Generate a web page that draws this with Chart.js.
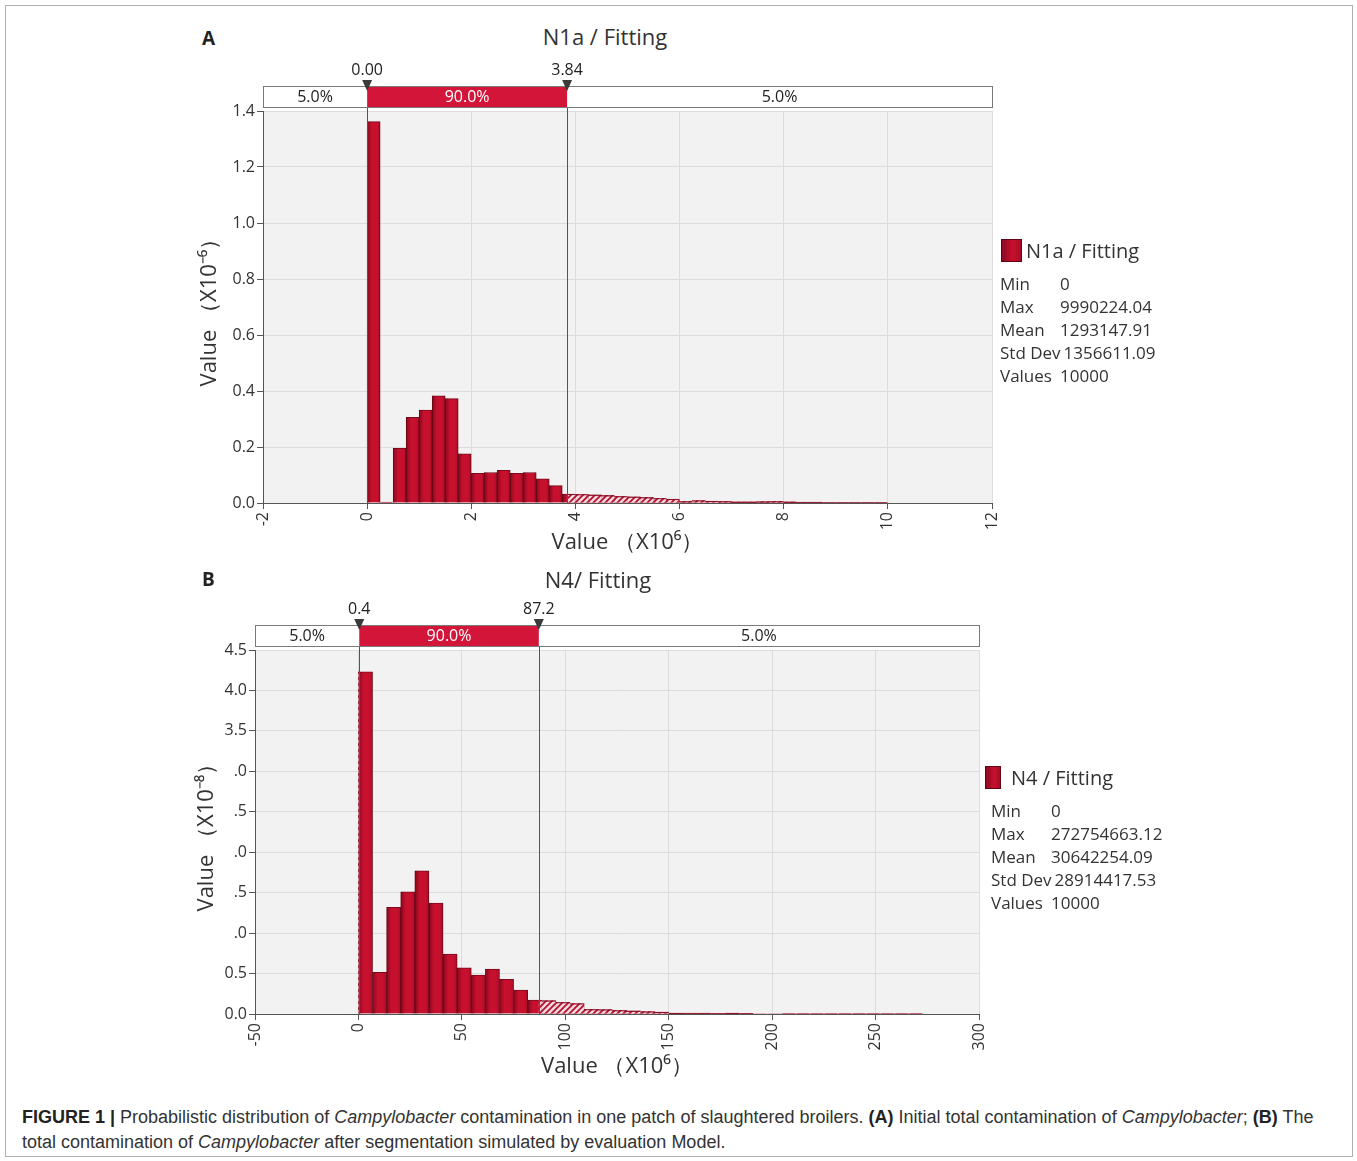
<!DOCTYPE html>
<html><head><meta charset="utf-8">
<script src="https://cdn.jsdelivr.net/npm/chart.js@4.4.1/dist/chart.umd.min.js"></script>
<style>
html,body{margin:0;padding:0;background:#fff;}
body{width:1357px;height:1161px;position:relative;overflow:hidden;font-family:"Open Sans",sans-serif;color:#222;}
.frame{position:absolute;left:5px;top:5px;width:1346px;height:1150px;border:1px solid #b0b0b0;}
canvas{position:absolute;}
.abs{position:absolute;white-space:nowrap;}
.letter{font-weight:700;font-size:19px;transform:translateY(-50%);}
.ptitle{font-size:22px;transform:translate(-50%,-50%);color:#333;}
.leg{position:absolute;font-size:17px;line-height:23px;color:#333;white-space:nowrap;}
.leg .row span.k{display:inline-block;min-width:60px;padding-right:3px;box-sizing:border-box;}
.head{position:absolute;font-size:20px;color:#333;display:flex;align-items:center;white-space:nowrap;}
.sw{display:inline-block;background:linear-gradient(90deg,#8e0a22,#c8102e 60%,#a50c27);border:1px solid #5e0614;}
.cap{position:absolute;left:22px;top:1105px;font-family:"Liberation Sans",Arial,sans-serif;font-size:18px;line-height:24.5px;color:#333;white-space:nowrap;}
</style>
</head>
<body>
<div class="frame"></div>

<div class="abs letter" style="left:202px;top:38px;">A</div>
<div class="abs ptitle" style="left:605px;top:36px;">N1a / Fitting</div>
<canvas id="cA" width="850" height="510" style="left:190px;top:60px;"></canvas>

<div class="head" style="left:1001px;top:237px;"><span class="sw" style="width:19px;height:21px;margin-right:4px;"></span>N1a / Fitting</div>
<div class="leg" id="legA" style="left:1000px;top:272px;"></div>

<div class="abs letter" style="left:202px;top:579px;">B</div>
<div class="abs ptitle" style="left:598px;top:579px;">N4/ Fitting</div>
<canvas id="cB" width="850" height="495" style="left:190px;top:595px;"></canvas>

<div class="head" style="left:985px;top:764px;"><span class="sw" style="width:14px;height:21px;margin-right:10px;"></span>N4 / Fitting</div>
<div class="leg" id="legB" style="left:991px;top:799px;"></div>

<div class="cap"><b style="color:#222">FIGURE 1 |</b> Probabilistic distribution of <i>Campylobacter</i> contamination in one patch of slaughtered broilers. <b style="color:#222">(A)</b> Initial total contamination of <i>Campylobacter</i>; <b style="color:#222">(B)</b> The<br>total contamination of <i>Campylobacter</i> after segmentation simulated by evaluation Model.</div>

<script>
// ---------------- DATA ----------------
// Panel A: N1a / Fitting  (x in 10^6, density in 10^-6), 40 bins between Min and Max
const rangeA = [0, 9.99022404];
const densityA = [1.362, 0.003, 0.195, 0.306, 0.332, 0.383, 0.373, 0.176, 0.106, 0.109,
                  0.117, 0.106, 0.109, 0.086, 0.062, 0.032, 0.031, 0.029, 0.027, 0.024,
                  0.022, 0.020, 0.017, 0.014, 0.006, 0.009, 0.007, 0.006, 0.004, 0.004,
                  0.005, 0.006, 0.004, 0.003, 0.003, 0.002, 0.002, 0.002, 0.002, 0.002];
const yTickLabelsA = ['0.0','0.2','0.4','0.6','0.8','1.0','1.2','1.4'];
const pctValuesA = [0.00, 3.84];
const pctMarkerLabelsA = ['0.00','3.84'];
const pctBandLabelsA = ['5.0%','90.0%','5.0%'];
const statLabels = ['Min','Max','Mean','Std Dev','Values'];
const statValuesA = ['0','9990224.04','1293147.91','1356611.09','10000'];

// Panel B: N4 / Fitting  (x in 10^6, density in 10^-8)
const rangeB = [0, 272.75466312];
const densityB = [4.23, 0.515, 1.32, 1.51, 1.77, 1.37, 0.74, 0.57, 0.48, 0.556,
                  0.43, 0.297, 0.173, 0.165, 0.145, 0.13, 0.058, 0.055, 0.045, 0.038,
                  0.030, 0.025, 0.012, 0.010, 0.010, 0.008, 0.012, 0.008, 0.006, 0.006,
                  0.005, 0.005, 0.005, 0.004, 0.004, 0.004, 0.004, 0.004, 0.003, 0.003];
const yTickLabelsB = ['0.0','0.5','.0','.5','.0','.5','.0','3.5','4.0','4.5'];
const pctValuesB = [0.4, 87.2];
const pctMarkerLabelsB = ['0.4','87.2'];
const pctBandLabelsB = ['5.0%','90.0%','5.0%'];
const statValuesB = ['0','272754663.12','30642254.09','28914417.53','10000'];

// ---------------- LEGENDS ----------------
function fillLeg(id, vals){
  document.getElementById(id).innerHTML = statLabels.map((k,i)=>
    '<div class="row"><span class="k">'+k+'</span><span>'+vals[i]+'</span></div>').join('');
}
fillLeg('legA', statValuesA);
fillLeg('legB', statValuesB);

// ---------------- CHARTS ----------------
Chart.defaults.font.family = '"Open Sans", sans-serif';
Chart.defaults.color = '#333';

function hatchCanvas(){
  const c = document.createElement('canvas'); c.width = 6; c.height = 6;
  const g = c.getContext('2d');
  g.fillStyle = '#f4d9df'; g.fillRect(0,0,6,6);
  g.strokeStyle = '#b50e2c'; g.lineWidth = 1.7;
  g.beginPath();
  g.moveTo(-1,7); g.lineTo(7,-1);
  g.moveTo(-1,1); g.lineTo(1,-1);
  g.moveTo(5,7); g.lineTo(7,5);
  g.stroke();
  return c;
}
const HATCH = hatchCanvas();

const plotBg = {
  id:'plotBg',
  beforeDraw(chart){
    const {ctx, chartArea:a} = chart;
    ctx.save(); ctx.fillStyle = '#f2f2f2';
    ctx.fillRect(a.left, a.top, a.right-a.left, a.bottom-a.top);
    ctx.restore();
  }
};

const barDeco = {
  id:'barDeco',
  afterDatasetsDraw(chart, args, o){
    const {ctx, chartArea:a, scales:{x}} = chart;
    const meta = chart.getDatasetMeta(0);
    const lo = x.getPixelForValue(o.pct[0]), hi = x.getPixelForValue(o.pct[1]);
    const rects = meta.data.map(el => {
      const p = el.getProps(['x','y','base','width'], true);
      return {l: p.x - p.width/2, w: p.width, t: p.y, h: p.base - p.y};
    });
    ctx.save();
    rects.forEach(r => {
      if (r.h <= 1) return;
      const gr = ctx.createLinearGradient(r.l, 0, r.l + r.w, 0);
      gr.addColorStop(0, 'rgba(60,0,10,0.45)');
      gr.addColorStop(0.35, 'rgba(60,0,10,0)');
      gr.addColorStop(0.75, 'rgba(60,0,10,0)');
      gr.addColorStop(1, 'rgba(60,0,10,0.22)');
      ctx.fillStyle = gr; ctx.fillRect(r.l, r.t, r.w, r.h);
    });
    const pat = ctx.createPattern(HATCH, 'repeat');
    [[a.left, lo], [hi, a.right]].forEach(([x0, x1]) => {
      if (x1 - x0 < 1.5) return;
      ctx.save();
      ctx.beginPath(); ctx.rect(x0, a.top, x1 - x0, a.bottom - a.top); ctx.clip();
      rects.forEach(r => {
        if (r.h <= 0) return;
        ctx.fillStyle = pat; ctx.fillRect(r.l, r.t, r.w, r.h);
        ctx.strokeStyle = '#8c0b23'; ctx.lineWidth = 1;
        ctx.beginPath(); ctx.moveTo(r.l, r.t + 0.5); ctx.lineTo(r.l + r.w, r.t + 0.5); ctx.stroke();
      });
      ctx.restore();
    });
    ctx.restore();
  }
};

const pctBar = {
  id:'pctBar',
  afterDraw(chart, args, o){
    const {ctx, chartArea:a, scales:{x}} = chart;
    const lo = x.getPixelForValue(o.values[0]), hi = x.getPixelForValue(o.values[1]);
    const top = a.top - 25, bot = a.top - 4;
    ctx.save();
    ctx.strokeStyle = '#555'; ctx.lineWidth = 1;
    [lo, hi].forEach(px => {
      const xx = Math.round(px) + 0.5;
      ctx.beginPath(); ctx.moveTo(xx, bot); ctx.lineTo(xx, a.bottom); ctx.stroke();
    });
    ctx.fillStyle = '#fff'; ctx.fillRect(a.left, top, a.right - a.left, bot - top);
    ctx.fillStyle = '#d3153a'; ctx.fillRect(lo, top, hi - lo, bot - top);
    ctx.strokeStyle = '#7a7a7a';
    ctx.strokeRect(Math.round(a.left) + 0.5, top + 0.5, Math.round(a.right - a.left), bot - top);
    ctx.font = '16px "Open Sans"'; ctx.textAlign = 'center'; ctx.textBaseline = 'middle';
    const mid = (top + bot) / 2 + 1;
    ctx.fillStyle = '#222'; ctx.fillText(o.bands[0], (a.left + lo) / 2, mid);
    ctx.fillStyle = '#fff'; ctx.fillText(o.bands[1], (lo + hi) / 2, mid);
    ctx.fillStyle = '#222'; ctx.fillText(o.bands[2], (hi + a.right) / 2, mid);
    [lo, hi].forEach((px, i) => {
      ctx.fillStyle = '#3a3a3a';
      ctx.beginPath(); ctx.moveTo(px - 5, top - 6); ctx.lineTo(px + 5, top - 6); ctx.lineTo(px, top + 5); ctx.closePath(); ctx.fill();
      ctx.fillStyle = '#222'; ctx.fillText(o.labels[i], px, top - 16);
    });
    ctx.restore();
  }
};

function makeChart(id, p){
  const w = (p.range[1] - p.range[0]) / p.density.length;
  const pts = p.density.map((v, i) => ({x: p.range[0] + (i + 0.5) * w, y: v}));
  return new Chart(document.getElementById(id), {
    type: 'bar',
    data: { datasets: [{
      data: pts,
      backgroundColor: '#c6102e',
      borderColor: '#7e0a1e',
      borderWidth: 1,
      barPercentage: 1,
      categoryPercentage: 1
    }]},
    options: {
      responsive: false, animation: false,
      layout: { padding: { top: p.padTop, right: p.padRight, left: 0, bottom: 0 } },
      plugins: {
        legend: {display: false}, tooltip: {enabled: false}, title: {display: false},
        barDeco: { pct: p.pct },
        pctBar: { values: p.pct, labels: p.pctLabels, bands: p.bands }
      },
      scales: {
        x: {
          type: 'linear', min: p.xMin, max: p.xMax, offset: false,
          afterFit(s){ s.height = p.xHeight; },
          ticks: { stepSize: p.xStep, minRotation: 90, maxRotation: 90, autoSkip: false,
                   font: {size: 16}, color: '#333', padding: 3 },
          grid: { color: '#dcdcdc', tickColor: '#555', tickLength: 6, offset: false },
          border: { color: '#555', width: 1 },
          title: { display: true, text: 'Value （X10⁶）', font: {size: 22}, color: '#333',
                   padding: {top: 0, bottom: p.xTitlePad} }
        },
        y: {
          min: 0, max: p.yMax,
          afterFit(s){ s.width = p.yWidth; },
          ticks: { stepSize: p.yStep, font: {size: 16}, color: '#333', padding: 2,
                   callback: (v, i) => p.yLabels[i] },
          grid: { color: '#dcdcdc', tickColor: '#555', tickLength: 6 },
          border: { color: '#555', width: 1 },
          title: { display: true, text: p.yTitle, font: {size: 22}, color: '#333',
                   padding: {top: p.yTitlePad, bottom: 0} }
        }
      }
    },
    plugins: [plotBg, barDeco, pctBar]
  });
}

makeChart('cA', {
  range: rangeA, density: densityA, pct: pctValuesA, pctLabels: pctMarkerLabelsA, bands: pctBandLabelsA,
  xMin: -2, xMax: 12, xStep: 2, yMax: 1.4, yStep: 0.2, yLabels: yTickLabelsA,
  yTitle: 'Value （X10⁻⁶）',
  padTop: 51, padRight: 48, yWidth: 73, xHeight: 67, xTitlePad: 14, yTitlePad: 7
});
makeChart('cB', {
  range: rangeB, density: densityB, pct: pctValuesB, pctLabels: pctMarkerLabelsB, bands: pctBandLabelsB,
  xMin: -50, xMax: 300, xStep: 50, yMax: 4.5, yStep: 0.5, yLabels: yTickLabelsB,
  yTitle: 'Value （X10⁻⁸）',
  padTop: 55, padRight: 61, yWidth: 65, xHeight: 76, xTitlePad: 10, yTitlePad: 4
});
</script>
</body></html>
